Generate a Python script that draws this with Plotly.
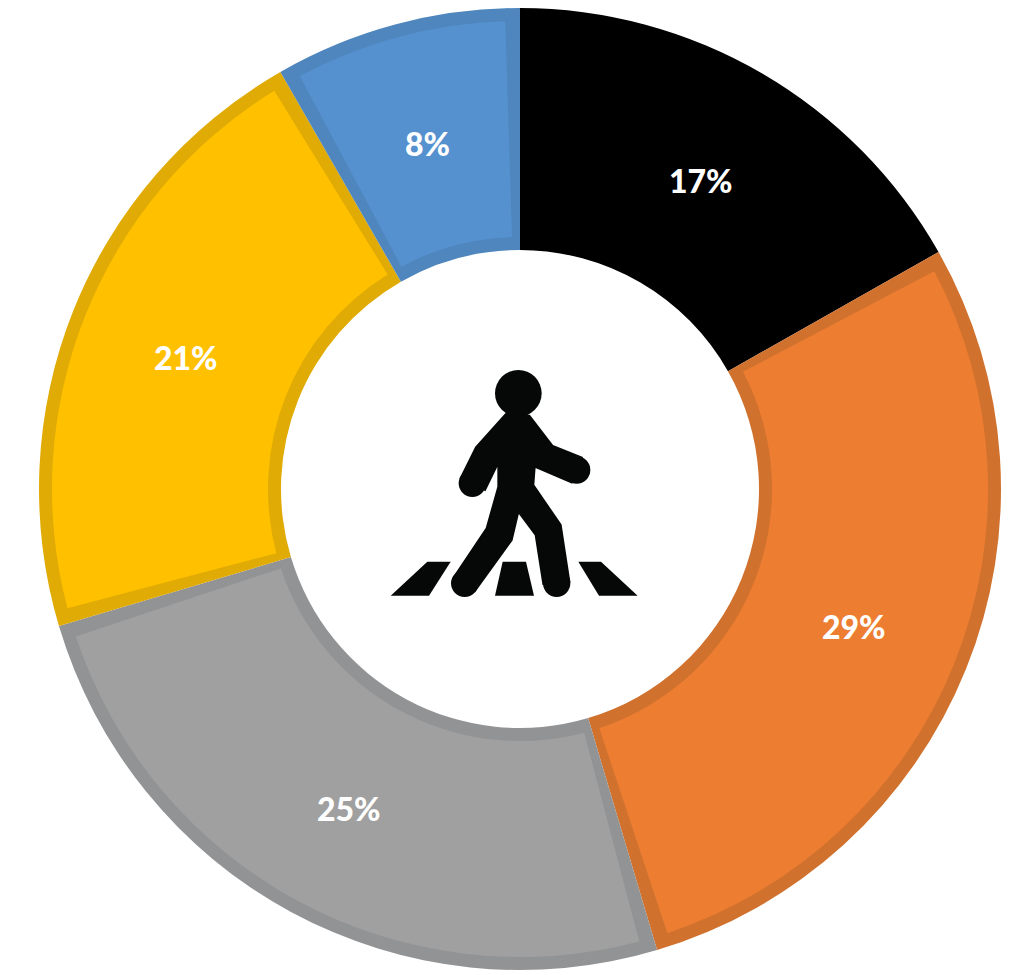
import math
import plotly.graph_objects as go

# The page body has an 8 px margin, so all pixel positions are relative to it
PAGE = 8
W, H = 1011, 967

# Data
categories = ["Black", "Orange", "Gray", "Yellow", "Blue"]
shares = [16.8, 28.6, 25.0, 21.3, 8.3]
labels = ["17%", "29%", "25%", "21%", "8%"]
fill_colors = ["#000000", "#ED7D31", "#A0A0A0", "#FFC000", "#5591CF"]
edge_colors = ["#000000", "#D0722E", "#919395", "#E0AB05", "#4E86BD"]

# Geometry
CX, CY = 520 - PAGE, 489 - PAGE
R_OUT, R_IN = 481, 239
BORDER = 13
GAP = 1.0  # angular border share between the inner fills
R_LABEL = 360


def dom(cx, cy, r):
    return dict(x=[(cx - r) / W, (cx + r) / W], y=[1 - (cy + r) / H, 1 - (cy - r) / H])


# Inset fills: each slice narrowed by a transparent spacer so the dark base shows through
inner_vals, inner_cols = [GAP / 2], ["rgba(0,0,0,0)"]
for i, v in enumerate(shares):
    inner_vals += [v - GAP, GAP if i < len(shares) - 1 else GAP / 2]
    inner_cols += [fill_colors[i], "rgba(0,0,0,0)"]

fig = go.Figure()
fig.add_trace(go.Pie(
    labels=categories, values=shares, sort=False, direction="clockwise", rotation=0,
    hole=R_IN / R_OUT, domain=dom(CX, CY, R_OUT), textinfo="none", showlegend=False,
    marker=dict(colors=edge_colors, line=dict(width=0)),
))
fig.add_trace(go.Pie(
    values=inner_vals, sort=False, direction="clockwise", rotation=0,
    hole=(R_IN + BORDER) / (R_OUT - BORDER), domain=dom(CX, CY, R_OUT - BORDER),
    textinfo="none", showlegend=False, marker=dict(colors=inner_cols, line=dict(width=0)),
))

# Labels at each slice's angular middle
annotations = []
total = sum(shares)
running = 0.0
for v, lab in zip(shares, labels):
    ang = 2 * math.pi * (running + v / 2) / total
    running += v
    annotations.append(dict(
        x=(CX + R_LABEL * math.sin(ang)) / W, y=1 - (CY - R_LABEL * math.cos(ang)) / H,
        xref="paper", yref="paper", text=lab, showarrow=False, xanchor="center", yanchor="middle",
        yshift=-2.5,
        font=dict(family="Lato", size=32, color="#FFFFFF", weight=900),
    ))

# Pedestrian pictogram (traced at 3x around the origin 370, 350)
ICON = "#050807"


def pt(zx, zy):
    return (370 - PAGE + zx / 3) / W, 1 - (350 - PAGE + zy / 3) / H


def poly(points):
    p = [pt(*q) for q in points]
    return "M" + " L".join(f"{x:.5f},{y:.5f}" for x, y in p) + " Z"


def shape_path(points, stroke=0):
    return dict(type="path", xref="paper", yref="paper", path=poly(points),
                fillcolor=ICON, line=dict(width=stroke, color=ICON))


def shape_circle(zx, zy, zr):
    x0, y0 = pt(zx - zr, zy + zr)
    x1, y1 = pt(zx + zr, zy - zr)
    return dict(type="circle", xref="paper", yref="paper", x0=x0, y0=y0, x1=x1, y1=y1,
                fillcolor=ICON, line=dict(width=0))


body = [(408, 192), (318, 292), (272, 385), (345, 420), (385, 338), (385, 410), (350, 535),
        (258, 672), (315, 722), (425, 570), (445, 485), (497, 555), (520, 702), (598, 695),
        (572, 525), (490, 405), (494, 350), (605, 397), (635, 323), (548, 288), (478, 197)]
stripes = [
    [(172, 635), (242, 635), (177, 737), (62, 737)],
    [(398, 635), (468, 635), (492, 737), (375, 737)],
    [(625, 635), (693, 635), (803, 737), (687, 737)],
]
shapes = [shape_path(body, stroke=2)] + [shape_path(s) for s in stripes]
shapes += [shape_circle(445, 130, 70), shape_circle(307, 400, 41), shape_circle(284, 700, 41),
           shape_circle(560, 700, 41), shape_circle(620, 360, 41)]

fig.update_layout(width=W, height=H, margin=dict(l=0, r=0, t=0, b=0),
                  paper_bgcolor="white", plot_bgcolor="white", showlegend=False,
                  shapes=shapes, annotations=annotations)
fig.write_html("out.html")
